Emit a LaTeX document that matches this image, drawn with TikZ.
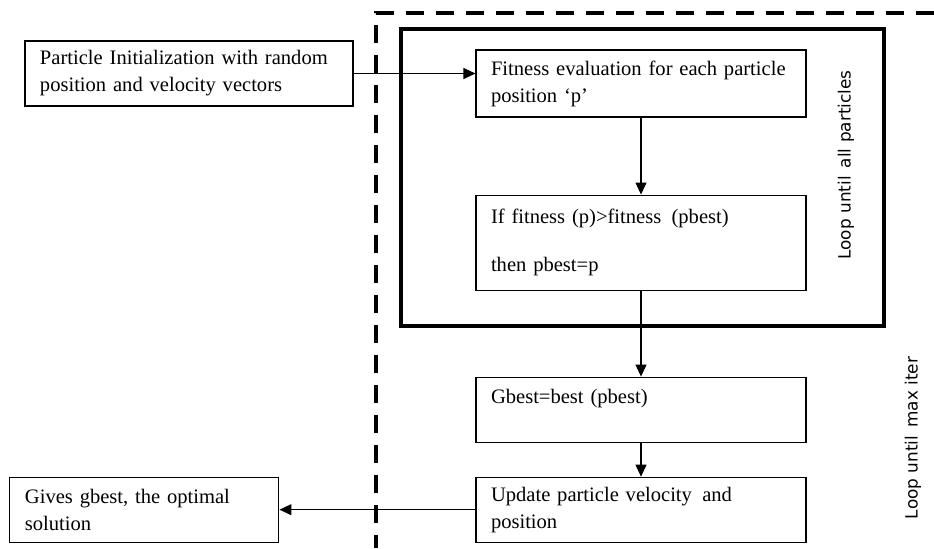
\documentclass[tikz,border=0pt]{standalone}
\usepackage{fontspec}
\setmainfont{Liberation Serif}
\newfontfamily\loopfont{DejaVu Sans}
\usetikzlibrary{positioning, arrows.meta}
\tikzset{
    node distance=1.5cm, % default gap between boxes
    box/.style={ % the boxes of the chart
        draw,
        line width=0.6pt,
        align=left,
        inner xsep=0.3cm,
        minimum height=1.3cm,
        font=\fontsize{11.7}{15.4}\selectfont
    },
    every edge/.style={ % connectors between boxes
        draw,
        -{Triangle[length=0.24cm,width=0.22cm]},
        line width=0.6pt
    },
    looplabel/.style={rotate=90, font=\loopfont\fontsize{9.6}{12}\selectfont},
}

\begin{document}
\begin{tikzpicture}
            \useasboundingbox (0,0) rectangle (18.68,-10.96);
            \node[box, text width=6.0cm, minimum height=1.34cm] at (12.82,-1.67) (fit)
                {Fitness evaluation for each particle\\position `p'};
            \node[box, text width=5.96cm] at (3.78,-1.47) (init)
                {Particle Initialization with random\\position and velocity vectors};
            \node[box, text width=6.0cm, minimum height=1.9cm, below=1.54cm of fit] (ifp)
                {If fitness (p)>fitness\, (pbest)\\[0.42cm]then pbest=p};
            \node[box, text width=6.0cm, below=1.72cm of ifp] (gbest)
                {Gbest=best (pbest)\\\mbox{}};
            \node[box, text width=6.0cm, below=0.68cm of gbest] (upd)
                {Update particle velocity\, and\\position};
            \node[box, text width=4.78cm, left=3.92cm of upd] (gives)
                {Gives gbest, the optimal\\solution};

            % loops
            \draw[line width=2.8pt] (8.02,-0.58) rectangle (17.68,-6.52);
            \draw[line width=2.2pt, dash pattern=on 0.36cm off 0.24cm]
                    (18.68,-0.26) -- (7.52,-0.26) -- (7.52,-10.96);
            \node[looplabel] at (16.92,-3.3) (lpart) {Loop until\, all particles};
            \node[looplabel] at (18.26,-8.76) (liter) {Loop until\, max iter};

            \draw   (init.east) edge (init.east -| fit.west)
                    (fit)       edge (ifp)
                    (ifp)       edge (gbest)
                    (gbest)     edge (upd)
                    (upd)       edge (gives)
            ;
        \end{tikzpicture}
\end{document}
